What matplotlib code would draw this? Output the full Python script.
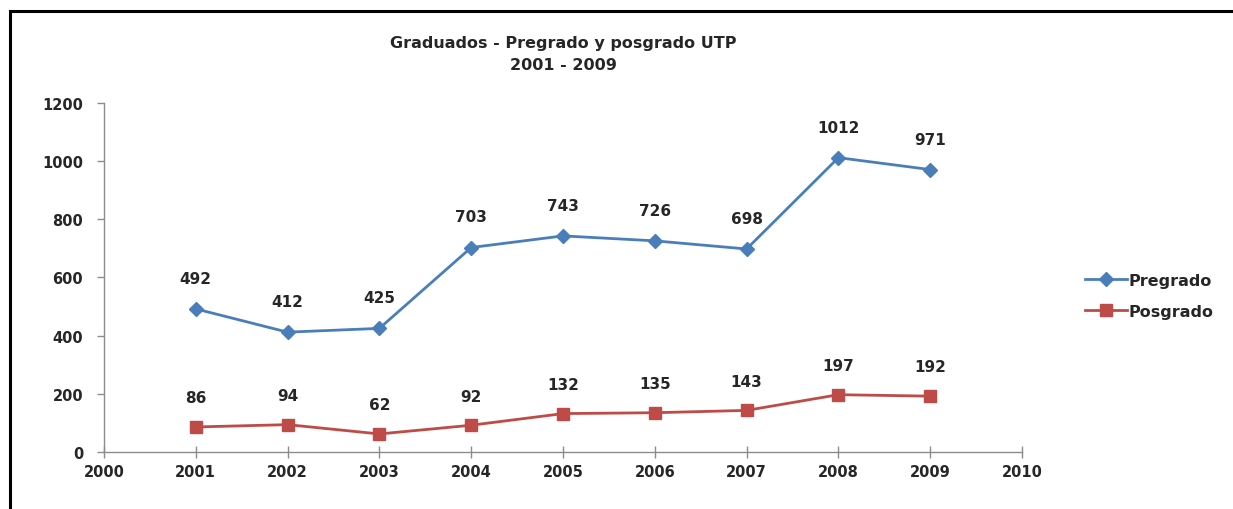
import matplotlib
matplotlib.use("Agg")
import matplotlib.pyplot as plt
from matplotlib.patches import Rectangle

# data
years = [2001, 2002, 2003, 2004, 2005, 2006, 2007, 2008, 2009]
pregrado = [492, 412, 425, 703, 743, 726, 698, 1012, 971]
posgrado = [86, 94, 62, 92, 132, 135, 143, 197, 192]

plt.rcParams['font.family'] = ['DejaVu Sans']

fig = plt.figure(figsize=(12.33, 5.10), dpi=100)
ax = fig.add_axes([0.0843, 0.1118, 0.7446, 0.6843])

blue = '#4A7EBB'
red = '#BE4B48'
txt = '#262626'

ax.plot(years, pregrado, color=blue, lw=2.0, marker='D', ms=7.5,
        label='Pregrado', zorder=3)
ax.plot(years, posgrado, color=red, lw=2.0, marker='s', ms=8.5,
        label='Posgrado', zorder=3)

for x, y in zip(years, pregrado):
    ax.annotate(str(y), (x, y), xytext=(0, 22), textcoords='offset points',
                ha='center', va='center', fontsize=11, fontweight='bold',
                color=txt)
for x, y in zip(years, posgrado):
    ax.annotate(str(y), (x, y), xytext=(0, 21), textcoords='offset points',
                ha='center', va='center', fontsize=11, fontweight='bold',
                color=txt)

ax.set_xlim(2000, 2010)
ax.set_ylim(0, 1200)
ax.set_xticks(range(2000, 2011))
ax.set_yticks(range(0, 1201, 200))

for s in ['top', 'right']:
    ax.spines[s].set_visible(False)
for s in ['left', 'bottom']:
    ax.spines[s].set_color('#8c8c8c')
    ax.spines[s].set_linewidth(1.0)

ax.tick_params(axis='y', direction='out', length=5, width=1, color='#8c8c8c',
               pad=10, labelsize=10.5)
ax.tick_params(axis='x', direction='inout', length=8, width=1, color='#8c8c8c',
               pad=5, labelsize=10.5)
for lab in ax.get_xticklabels() + ax.get_yticklabels():
    lab.set_fontweight('bold')
    lab.set_color(txt)

fig.text(0.457, 0.893, 'Graduados - Pregrado y posgrado UTP\n2001 - 2009',
         ha='center', va='center', fontsize=11.5, fontweight='bold',
         color=txt, linespacing=1.65)

leg = ax.legend(loc='center left', bbox_to_anchor=(1.053, 0.448), frameon=False,
                fontsize=11.5, handlelength=2.6, handletextpad=0.15,
                labelspacing=1.0)
for t in leg.get_texts():
    t.set_fontweight('bold')
    t.set_color(txt)

# outer frame of the chart area
fig.patches.append(Rectangle((0.0085, -0.1), 1.2, 1.076, transform=fig.transFigure,
                             fill=False, edgecolor='black', lw=2.2))

fig.savefig('out.png', dpi=100)
